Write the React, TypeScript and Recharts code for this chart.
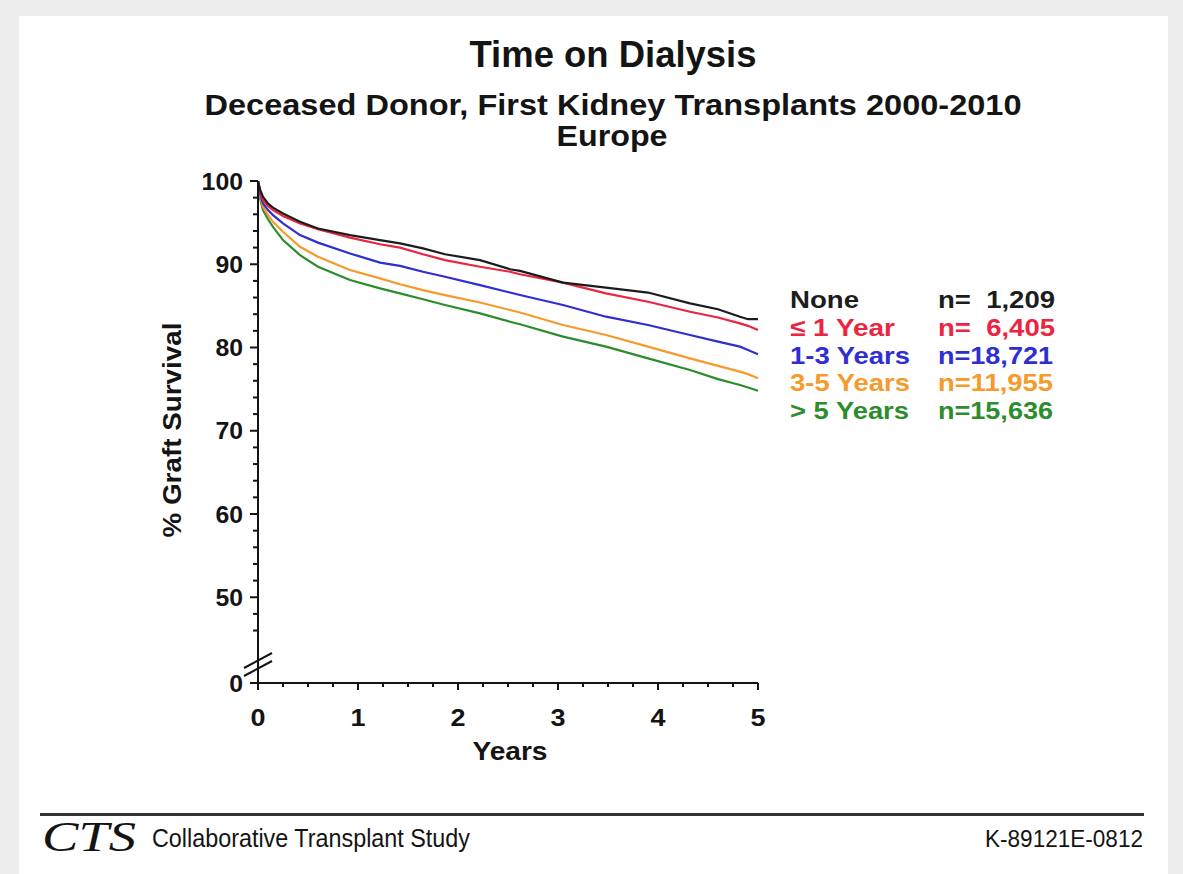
import React from "react";
import { LineChart, Line, XAxis, YAxis } from "recharts";

const FONT = '"Liberation Sans", Arial, Helvetica, sans-serif';
const INK = "#141414";

// Kaplan-Meier graft survival (%) by time on dialysis before transplant
const TIMES = [0, 0.02, 0.05, 0.1, 0.15, 0.25, 0.42, 0.6, 0.92, 1.22, 1.42, 1.65, 1.87, 2.22, 2.52, 2.62, 3.05, 3.48, 3.9, 4.32, 4.6, 4.82, 4.9, 5.0];
const NONE  = [100, 99.0, 98.1, 97.3, 96.8, 96.1, 95.1, 94.3, 93.5, 92.9, 92.5, 91.9, 91.2, 90.5, 89.4, 89.2, 87.8, 87.2, 86.6, 85.3, 84.6, 83.7, 83.4, 83.4];
const UP_TO_1 = [100, 98.8, 97.7, 97.0, 96.5, 95.8, 94.9, 94.2, 93.2, 92.4, 92.0, 91.2, 90.5, 89.7, 89.1, 88.8, 87.8, 86.5, 85.5, 84.3, 83.6, 82.9, 82.6, 82.1];
const Y1_3  = [100, 98.5, 97.3, 96.5, 95.9, 94.9, 93.5, 92.6, 91.3, 90.2, 89.8, 89.1, 88.5, 87.5, 86.6, 86.3, 85.1, 83.7, 82.7, 81.5, 80.7, 80.1, 79.7, 79.2];
const Y3_5  = [100, 98.2, 96.9, 95.9, 95.1, 93.9, 92.1, 90.9, 89.3, 88.3, 87.6, 86.9, 86.3, 85.4, 84.5, 84.2, 82.7, 81.5, 80.1, 78.7, 77.8, 77.1, 76.8, 76.3];
const OVER_5 = [100, 97.9, 96.5, 95.4, 94.5, 92.9, 91.1, 89.7, 88.1, 87.1, 86.5, 85.8, 85.1, 84.1, 83.1, 82.8, 81.3, 80.1, 78.7, 77.3, 76.2, 75.5, 75.2, 74.8];

const GROUPS = ["None", "\u2264 1 Year", "1-3 Years", "3-5 Years", "> 5 Years"];
const COUNTS = ["n=  1,209", "n=  6,405", "n=18,721", "n=11,955", "n=15,636"];
const KEYS = ["none", "le1", "y13", "y35", "gt5"];
const COLORS = ["#1c1c1c", "#ec2440", "#2e2ed2", "#f69a2c", "#2c8d2c"];

// the y axis is broken: its floor is labelled 0
const AXIS_FLOOR = 39.7;
const Y_TICKS = [AXIS_FLOOR, 46, 48, 50, 52, 54, 56, 58, 60, 62, 64, 66, 68, 70, 72, 74, 76, 78, 80, 82, 84, 86, 88, 90, 92, 94, 96, 98, 100];
const X_TICKS = [0, 0.25, 0.5, 0.75, 1, 1.25, 1.5, 1.75, 2, 2.25, 2.5, 2.75, 3, 3.25, 3.5, 3.75, 4, 4.25, 4.5, 4.75, 5];

const rows = TIMES.map((t, i) => ({
  t,
  none: NONE[i],
  le1: UP_TO_1[i],
  y13: Y1_3[i],
  y35: Y3_5[i],
  gt5: OVER_5[i],
}));

const PLOT_LEFT = 258;
const PLOT_BOTTOM = 683;

function YTick(props: any) {
  const { y, payload } = props;
  const v = payload.value;
  const major = v === AXIS_FLOOR || v % 10 === 0;
  const label = v === AXIS_FLOOR ? "0" : String(v);
  return (
    <g>
      <line x1={PLOT_LEFT - (major ? 8 : 5)} x2={PLOT_LEFT} y1={y} y2={y} stroke={INK} strokeWidth={2} />
      {major && (
        <text x={243} y={y + 8.5} textAnchor="end" fontFamily={FONT} fontWeight={700} fontSize={24} fill={INK}
          textLength={label.length * 13.8} lengthAdjust="spacingAndGlyphs">
          {label}
        </text>
      )}
    </g>
  );
}

function XTick(props: any) {
  const { x, payload } = props;
  const v = payload.value;
  const major = Number.isInteger(v);
  return (
    <g>
      <line x1={x} x2={x} y1={PLOT_BOTTOM} y2={PLOT_BOTTOM + (major ? 7 : 4)} stroke={INK} strokeWidth={2} />
      {major && (
        <text x={x} y={726} textAnchor="middle" fontFamily={FONT} fontWeight={700} fontSize={24} fill={INK}
          textLength={15} lengthAdjust="spacingAndGlyphs">
          {v}
        </text>
      )}
    </g>
  );
}

const LEGEND_BASE = [308, 336, 363.5, 391, 418.5];
const LEGEND_LEFT_W = [69, 105, 120, 120, 119];

export default function App() {
  return (
    <div style={{ position: "absolute", left: 0, top: 0, width: 1183, height: 874, background: "#ededed", overflow: "hidden" }}>
      <div style={{ position: "absolute", left: 19, top: 16, width: 1149, height: 858, background: "#fff" }} />
      <div style={{ position: "absolute", left: 0, top: 0 }}>
        <LineChart width={1183} height={874} data={rows} margin={{ top: 181, right: 425, bottom: 151, left: 198 }}>
          <XAxis
            dataKey="t"
            type="number"
            domain={[0, 5]}
            ticks={X_TICKS}
            interval={0}
            height={40}
            axisLine={{ stroke: INK, strokeWidth: 2 }}
            tickLine={false}
            tick={XTick}
          />
          <YAxis
            type="number"
            domain={[AXIS_FLOOR, 100]}
            ticks={Y_TICKS}
            interval={0}
            width={60}
            allowDataOverflow
            axisLine={{ stroke: INK, strokeWidth: 2 }}
            tickLine={false}
            tick={YTick}
          />
          {[4, 3, 2, 1, 0].map((i) => (
            <Line
              key={KEYS[i]}
              dataKey={KEYS[i]}
              type="linear"
              stroke={COLORS[i]}
              strokeWidth={2.2}
              dot={false}
              activeDot={false}
              isAnimationActive={false}
            />
          ))}
        </LineChart>
      </div>
      <svg width={1183} height={874} style={{ position: "absolute", left: 0, top: 0, pointerEvents: "none" }}>
        <g fontFamily={FONT} fontWeight={700} fill={INK}>
          <text x={613} y={67} textAnchor="middle" fontSize={36} textLength={287} lengthAdjust="spacingAndGlyphs">
            Time on Dialysis
          </text>
          <text x={613} y={115} textAnchor="middle" fontSize={29} textLength={817} lengthAdjust="spacingAndGlyphs">
            Deceased Donor, First Kidney Transplants 2000-2010
          </text>
          <text x={612} y={146} textAnchor="middle" fontSize={29} textLength={111} lengthAdjust="spacingAndGlyphs">
            Europe
          </text>
          <text x={181} y={430} transform="rotate(-90 181 430)" textAnchor="middle" fontSize={25}
            textLength={215} lengthAdjust="spacingAndGlyphs">
            % Graft Survival
          </text>
          <text x={510} y={760} textAnchor="middle" fontSize={26} textLength={75} lengthAdjust="spacingAndGlyphs">
            Years
          </text>
          {GROUPS.map((g, i) => (
            <g key={g} fill={COLORS[i]} fontSize={24}>
              <text x={790} y={LEGEND_BASE[i]} textLength={LEGEND_LEFT_W[i]} lengthAdjust="spacingAndGlyphs">{g}</text>
              <text x={938} y={LEGEND_BASE[i]} textLength={i < 2 ? 117 : 115} lengthAdjust="spacingAndGlyphs"
                style={{ whiteSpace: "pre" }}>
                {COUNTS[i]}
              </text>
            </g>
          ))}
        </g>
        {/* axis break */}
        <line x1={244} y1={668} x2={272} y2={653} stroke={INK} strokeWidth={2} />
        <line x1={244} y1={676} x2={272} y2={661} stroke={INK} strokeWidth={2} />
        {/* footer */}
        <rect x={40} y={813} width={1104} height={3} fill="#333" />
        <text x={42} y={851} fontFamily='"Liberation Serif", "Times New Roman", serif' fontStyle="italic" fontSize={42}
          fill={INK} textLength={94} lengthAdjust="spacingAndGlyphs">
          CTS
        </text>
        <text x={152} y={847} fontFamily={FONT} fontSize={25} fill={INK} textLength={318} lengthAdjust="spacingAndGlyphs">
          Collaborative Transplant Study
        </text>
        <text x={1143} y={847} textAnchor="end" fontFamily={FONT} fontSize={24} fill={INK} textLength={158}
          lengthAdjust="spacingAndGlyphs">
          K-89121E-0812
        </text>
      </svg>
    </div>
  );
}
